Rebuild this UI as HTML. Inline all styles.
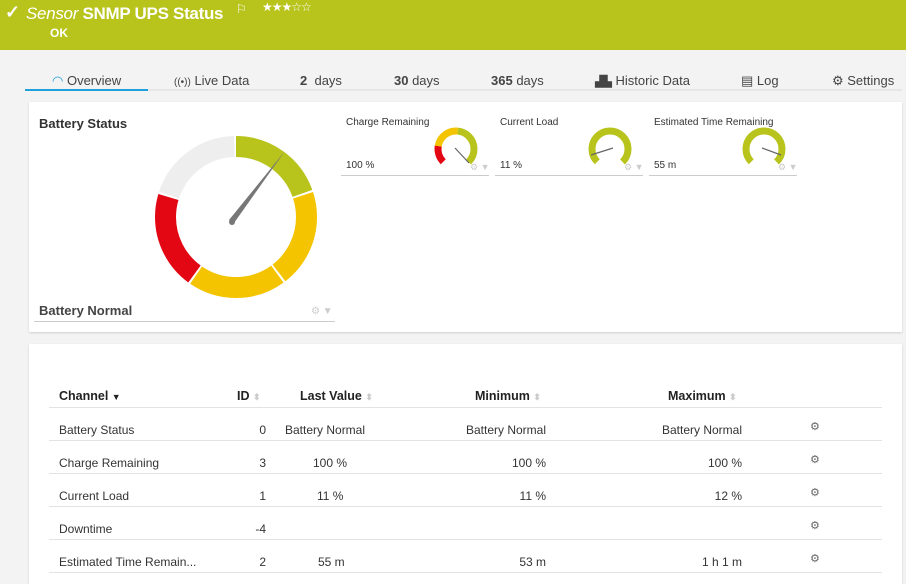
<!DOCTYPE html>
<html><head><meta charset="utf-8"><style>
*{margin:0;padding:0;box-sizing:border-box}
body{width:906px;height:579px;overflow:hidden;background:#f3f3f3;font-family:"Liberation Sans",sans-serif;color:#333;position:relative}
.a{position:absolute;white-space:nowrap}
.hdr{position:absolute;left:0;top:0;width:906px;height:50px;background:#b8c41c}
.tab{font-size:13px;color:#444;top:73px}
.panel{position:absolute;background:#fff;box-shadow:0 1px 2px rgba(0,0,0,.15)}
.s{font-size:12px;color:#333}
.th{font-size:12.5px;font-weight:bold;color:#222;top:389px}
.ln{position:absolute;left:49px;width:833px;height:1px;background:#e3e3e3}
.r{text-align:right}
.gear{color:#666;font-size:11px}
.arr{color:#ccc;font-size:9px}
</style></head><body>
<div class="hdr"></div>
<div class="a" style="left:5px;top:2px;color:#fff;font-size:18px;font-weight:bold">✓</div>
<div class="a" style="left:26px;top:4px;color:#fff;font-size:17px;letter-spacing:-0.3px"><i>Sensor</i> <b>SNMP UPS Status</b></div>
<div class="a" style="left:236px;top:2px;color:#fff;font-size:12px">⚐</div>
<div class="a" style="left:262px;top:0px;color:#fff;font-size:12px;letter-spacing:-1px">★★★☆☆</div>
<div class="a" style="left:50px;top:26px;color:#fff;font-size:12px;font-weight:bold">OK</div>

<div class="a" style="left:25px;top:89px;width:877px;height:2px;background:#e6e6e6"></div>
<div class="a" style="left:25px;top:89px;width:123px;height:2px;background:#1ea0dc"></div>
<div class="a tab" style="left:52px"><span style="color:#1ea0dc">◠</span> Overview</div>
<div class="a tab" style="left:174px"><span style="font-size:10px">((•))</span> Live Data</div>
<div class="a tab" style="left:300px"><b>2</b>&nbsp; days</div>
<div class="a tab" style="left:394px"><b>30</b> days</div>
<div class="a tab" style="left:491px"><b>365</b> days</div>
<div class="a tab" style="left:595px"><span style="font-size:11px">▟▙</span> Historic Data</div>
<div class="a tab" style="left:741px">▤ Log</div>
<div class="a tab" style="left:832px">⚙ Settings</div>

<div class="panel" style="left:29px;top:102px;width:873px;height:230px"></div>
<div class="a" style="left:39px;top:116px;font-size:13px;font-weight:bold;color:#333">Battery Status</div>
<svg class="a" style="left:0;top:0" width="906" height="340">
<g transform="rotate(-90 236 217)" fill="none" stroke-width="21">
<circle cx="236" cy="217" r="70.5" stroke="#b8c41c" stroke-dasharray="86.6 356.4" stroke-dashoffset="0"/>
<circle cx="236" cy="217" r="70.5" stroke="#f5c400" stroke-dasharray="86.6 356.4" stroke-dashoffset="-88.6"/>
<circle cx="236" cy="217" r="70.5" stroke="#f5c400" stroke-dasharray="86.6 356.4" stroke-dashoffset="-177.2"/>
<circle cx="236" cy="217" r="70.5" stroke="#e30613" stroke-dasharray="86.6 356.4" stroke-dashoffset="-265.8"/>
<circle cx="236" cy="217" r="70.5" stroke="#eeeeee" stroke-dasharray="86.6 356.4" stroke-dashoffset="-354.4"/>
</g>
<polygon points="229,220 234,223 285,151" fill="#777"/>
<circle cx="232" cy="222" r="3" fill="#777"/>
<g fill="none" stroke-width="7">
<g transform="rotate(135 456 149)">
<circle cx="456" cy="149" r="18" stroke="#e30613" stroke-dasharray="17 200"/>
<circle cx="456" cy="149" r="18" stroke="#f5c400" stroke-dasharray="27 200" stroke-dashoffset="-17"/>
<circle cx="456" cy="149" r="18" stroke="#b8c41c" stroke-dasharray="41 200" stroke-dashoffset="-44"/>
</g>
<circle transform="rotate(135 610 149)" cx="610" cy="149" r="18" stroke="#b8c41c" stroke-dasharray="85 200"/>
<circle transform="rotate(135 764 149)" cx="764" cy="149" r="18" stroke="#b8c41c" stroke-dasharray="85 200"/>
</g>
<line x1="455" y1="148" x2="469" y2="163" stroke="#666" stroke-width="1.2"/>
<line x1="591" y1="155" x2="613" y2="148" stroke="#666" stroke-width="1.2"/>
<line x1="762" y1="148" x2="781" y2="155" stroke="#666" stroke-width="1.2"/>
</svg>
<div class="a" style="left:346px;top:117px;font-size:10px;color:#333">Charge Remaining</div>
<div class="a" style="left:500px;top:117px;font-size:10px;color:#333">Current Load</div>
<div class="a" style="left:654px;top:117px;font-size:10px;color:#333">Estimated Time Remaining</div>
<div class="a" style="left:346px;top:160px;font-size:10px">100 %</div>
<div class="a" style="left:500px;top:160px;font-size:10px">11 %</div>
<div class="a" style="left:654px;top:160px;font-size:10px">55 m</div>
<div class="a" style="left:341px;top:175px;width:148px;height:1px;background:#ccc"></div>
<div class="a" style="left:495px;top:175px;width:148px;height:1px;background:#ccc"></div>
<div class="a" style="left:649px;top:175px;width:148px;height:1px;background:#ccc"></div>
<div class="a" style="left:470px;top:162px;font-size:9px;color:#ccc">⚙ ▼</div>
<div class="a" style="left:624px;top:162px;font-size:9px;color:#ccc">⚙ ▼</div>
<div class="a" style="left:778px;top:162px;font-size:9px;color:#ccc">⚙ ▼</div>
<div class="a" style="left:39px;top:303px;font-size:13px;font-weight:bold;color:#444">Battery Normal</div>
<div class="a" style="left:34px;top:321px;width:301px;height:1px;background:#ccc"></div>
<div class="a" style="left:311px;top:306px;font-size:10px;color:#ccc">⚙ ▼</div>

<div class="panel" style="left:29px;top:344px;width:873px;height:240px"></div>
<div class="a th" style="left:59px">Channel <span style="font-size:9px">▼</span></div>
<div class="a th" style="left:237px">ID <span class="arr">⬍</span></div>
<div class="a th" style="left:300px">Last Value <span class="arr">⬍</span></div>
<div class="a th" style="left:475px">Minimum <span class="arr">⬍</span></div>
<div class="a th" style="left:668px">Maximum <span class="arr">⬍</span></div>
<div class="ln" style="top:407px"></div>
<div class="ln" style="top:440px"></div>
<div class="ln" style="top:473px"></div>
<div class="ln" style="top:506px"></div>
<div class="ln" style="top:539px"></div>
<div class="ln" style="top:572px"></div>

<div class="a s" style="left:59px;top:423px">Battery Status</div>
<div class="a s r" style="left:216px;width:50px;top:423px">0</div>
<div class="a s" style="left:285px;top:423px">Battery Normal</div>
<div class="a s r" style="left:396px;width:150px;top:423px">Battery Normal</div>
<div class="a s r" style="left:592px;width:150px;top:423px">Battery Normal</div>
<div class="a gear" style="left:810px;top:420px">⚙</div>

<div class="a s" style="left:59px;top:456px">Charge Remaining</div>
<div class="a s r" style="left:216px;width:50px;top:456px">3</div>
<div class="a s" style="left:313px;top:456px">100 %</div>
<div class="a s r" style="left:396px;width:150px;top:456px">100 %</div>
<div class="a s r" style="left:592px;width:150px;top:456px">100 %</div>
<div class="a gear" style="left:810px;top:453px">⚙</div>

<div class="a s" style="left:59px;top:489px">Current Load</div>
<div class="a s r" style="left:216px;width:50px;top:489px">1</div>
<div class="a s" style="left:317px;top:489px">11 %</div>
<div class="a s r" style="left:396px;width:150px;top:489px">11 %</div>
<div class="a s r" style="left:592px;width:150px;top:489px">12 %</div>
<div class="a gear" style="left:810px;top:486px">⚙</div>

<div class="a s" style="left:59px;top:522px">Downtime</div>
<div class="a s r" style="left:216px;width:50px;top:522px">-4</div>
<div class="a gear" style="left:810px;top:519px">⚙</div>

<div class="a s" style="left:59px;top:555px">Estimated Time Remain...</div>
<div class="a s r" style="left:216px;width:50px;top:555px">2</div>
<div class="a s" style="left:318px;top:555px">55 m</div>
<div class="a s r" style="left:396px;width:150px;top:555px">53 m</div>
<div class="a s r" style="left:592px;width:150px;top:555px">1 h 1 m</div>
<div class="a gear" style="left:810px;top:552px">⚙</div>
</body></html>
